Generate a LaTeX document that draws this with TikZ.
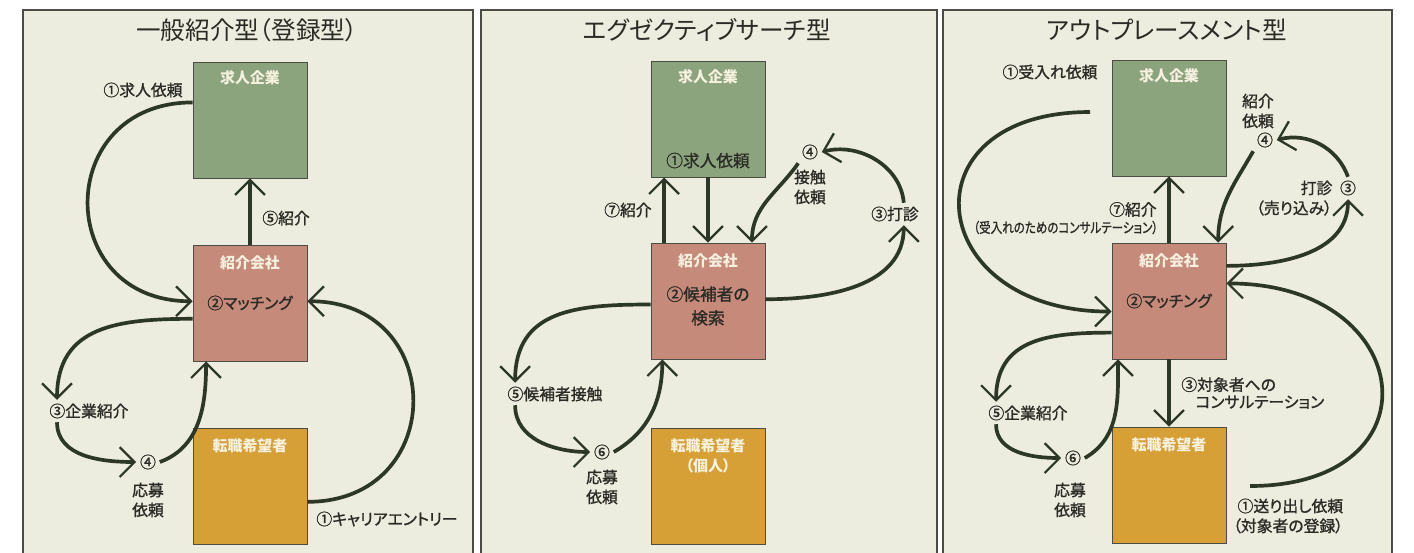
\documentclass[tikz,border=0pt]{standalone}
\usepackage{fontspec}
\setmainfont{Noto Sans CJK JP}[RawFeature=+palt]
\newfontfamily\medfont{Noto Sans CJK JP}[RawFeature=+palt, FakeBold=1.2]
\newfontfamily\narrowfont{Noto Sans CJK JP}[RawFeature=+palt, FakeStretch=0.82, FakeBold=1.2]
\usepackage{tikz}
\usetikzlibrary{arrows.meta}
\usetikzlibrary{positioning}
\tikzset{flow/.style = {draw = marrow, line width = 2.1pt,
                        -{Straight Barb[length = 8.5pt, width = 17pt, line width = 1.3pt]}}}
\tikzset{box/.style = {draw = mframe, line width = 0.5pt, minimum width = 2.28cm, minimum height = 2.32cm, inner sep = 0}}
\tikzset{head/.style = {font = \fontsize{8.5}{11.3}\selectfont\bfseries, text = mcream, inner sep = 0, align = center}}
\tikzset{inbox/.style = {font = \medfont\fontsize{9}{13.5}\selectfont, text = mtext, inner sep = 0, align = center}}
\tikzset{lbl/.style = {font = \medfont\fontsize{9}{11.3}\selectfont, text = mtext, inner sep = 2pt, align = center}}
\tikzset{ttl/.style = {font = \fontsize{14}{16}\selectfont, text = mtext, inner sep = 0}}
\definecolor{mpanel}{rgb}{0.925, 0.929, 0.871}
\definecolor{mframe}{rgb}{0.30, 0.30, 0.28}
\definecolor{mgreen}{rgb}{0.545, 0.643, 0.490}
\definecolor{mpink}{rgb}{0.776, 0.541, 0.478}
\definecolor{morange}{rgb}{0.839, 0.627, 0.212}
\definecolor{marrow}{rgb}{0.173, 0.216, 0.153}
\definecolor{mtext}{rgb}{0.17, 0.17, 0.15}
\definecolor{mcream}{rgb}{0.97, 0.95, 0.88}
\begin{document}
\begin{tikzpicture}[x = 0.02cm, y = -0.02cm]
      \useasboundingbox (0, 0) rectangle (1414, 552);
      \fill [white] (0, 0) rectangle (1414, 552);
      \foreach \a/\b in {23/473, 481/937, 943/1392} {
        \draw [fill = mpanel, draw = mframe, line width = 0.8pt] (\a, 10) rectangle (\b, 560);
      }

      \node [ttl] (t1) at (247, 30) {一般紹介型（登録型）};
      \node [box, fill = mgreen] (ent1) at (250, 120) {};
      \node [box, fill = mpink] (mat1) at (250, 303) {};
      \node [box, fill = morange] (can1) at (250, 486) {};
      \node [head, below = 5pt of ent1.north] (ent1h) {求人企業};
      \node [head, below = 6pt of mat1.north] (mat1h) {紹介会社};
      \node [inbox] (mat1s) at (mat1) {②マッチング};
      \node [head, below = 6pt of can1.north] (can1h) {転職希望者};
      \node [lbl] (l11) at (143, 90) {①求人依頼};
      \node [lbl] (l13) at (89, 411) {③企業紹介};
      \node [lbl] (n14) at (148, 462) {④};
      \node [lbl] (n14b) at (148, 500) {応募\\依頼};
      \node [lbl] (l1e) at (387, 519) {①キャリアエントリー};
      \draw [flow] (mat1) -- (ent1) node [lbl, pos = 0.4, right = 4pt] (l15) {⑤紹介};
      \draw [flow] ([yshift = 10pt]ent1.west) to [out = 180, in = 180, looseness = 1.8] ([yshift = 1pt]mat1.west);
      \draw [flow] ([yshift = -9pt]mat1.west) to [out = 180, in = 90, looseness = 1.2] ([xshift = 6.5pt]l13.north west);
      \draw [flow] ([xshift = 6.5pt]l13.south west) to [out = -90, in = 180] (n14.west);
      \draw [flow] (n14.east) to [out = 20, in = -90] ([xshift = -25pt]mat1.south);
      \draw [flow] ([yshift = -9pt]can1.east) to [out = 0, in = 0, looseness = 1.8] ([yshift = 1pt]mat1.east);

      \node [ttl] (t2) at (707, 30) {エグゼクティブサーチ型};
      \node [box, fill = mgreen] (ent2) at (708, 119) {};
      \node [box, fill = mpink] (mat2) at (708, 301) {};
      \node [box, fill = morange] (can2) at (708, 486) {};
      \node [head, below = 5pt of ent2.north] (ent2h) {求人企業};
      \node [inbox, font = \medfont\fontsize{9.5}{11}\selectfont, above = 5pt of ent2.south] (ent2s) {①求人依頼};
      \node [head, below = 6pt of mat2.north] (mat2h) {紹介会社};
      \node [inbox, font = \medfont\fontsize{9.5}{13.5}\selectfont] (mat2s) at (708, 306) {②候補者の\\検索};
      \node [head, below = 6pt of can2.north] (can2h) {転職希望者\\（個人）};
      \draw [flow] ([xshift = -25pt]mat2.north) -- ([xshift = -25pt]ent2.south) node [lbl, midway, left = 4pt] (l27) {⑦紹介};
      \draw [flow] (ent2) -- (mat2);
      \node [lbl] (n24) at (810, 152) {④};
      \node [lbl] (n24b) at (810, 187) {接触\\依頼};
      \node [lbl] (n23) at (895, 214) {③打診};
      \draw [flow] (n24.south west) to [out = 235, in = 90] ([xshift = 25pt]mat2.north);
      \draw [flow] ([yshift = 1pt]mat2.east) to [out = 0, in = -90] ([xshift = 5pt]n23.south);
      \draw [flow] ([xshift = 5pt]n23.north) to [out = 95, in = 15] (n24.east);
      \node [lbl] (l25) at (555, 394) {⑤候補者接触};
      \node [lbl] (n26) at (602, 452) {⑥};
      \node [lbl] (n26b) at (602, 487) {応募\\依頼};
      \draw [flow] ([yshift = -2pt]mat2.west) to [out = 180, in = 90, looseness = 1.2] ([xshift = 6.5pt]l25.north west);
      \draw [flow] ([xshift = 6.5pt]l25.south west) to [out = -90, in = 180] (n26.west);
      \draw [flow] (n26.east) to [out = 30, in = -90] ([xshift = -26pt]mat2.south);

      \node [ttl] (t3) at (1167, 30) {アウトプレースメント型};
      \node [box, fill = mgreen] (ent3) at (1169, 118) {};
      \node [box, fill = mpink] (mat3) at (1169, 301) {};
      \node [box, fill = morange] (can3) at (1169, 485) {};
      \node [head, below = 5pt of ent3.north] (ent3h) {求人企業};
      \node [head, below = 6pt of mat3.north] (mat3h) {紹介会社};
      \node [inbox] (mat3s) at (mat3) {②マッチング};
      \node [head, below = 6pt of can3.north] (can3h) {転職希望者};
      \node [lbl] (l31) at (1050, 72) {①受入れ依頼};
      \coordinate (r31) at (1090, 112);
      \draw [flow] (r31) to [out = 180, in = 180, looseness = 2.4] ([yshift = -6pt]mat3.west);
      \draw [flow] (mat3) -- (ent3) node [lbl, midway, left = 4pt] (l37) {⑦紹介};
      \node [lbl, font = \narrowfont\fontsize{8}{10}\selectfont, anchor = north east] (l37b) at ([yshift = 3pt]l37.south east) {（受入れのためのコンサルテーション）};
      \node [lbl] (n34) at (1265, 140) {④};
      \node [lbl] (n34b) at (1258, 111) {紹介\\依頼};
      \node [lbl] (n33) at (1348, 188) {③};
      \node [lbl, left = 0pt of n33] (n33a) {打診};
      \node [lbl] (n33b) at (1294, 208) {（売り込み）};
      \draw [flow] (n34.south west) to [out = 240, in = 90] ([xshift = 28pt]mat3.north);
      \draw [flow] (n33.north) to [out = 110, in = 15] (n34.east);
      \draw [flow] ([yshift = 20pt]mat3.east) to [out = 0, in = -90] (n33.south);
      \node [lbl] (l35) at (1028, 413) {⑤企業紹介};
      \node [lbl] (n36) at (1073, 458) {⑥};
      \node [lbl] (n36b) at (1070, 500) {応募\\依頼};
      \draw [flow] ([yshift = -18pt]mat3.west) to [out = 180, in = 90, looseness = 1.2] ([xshift = 6.5pt]l35.north west);
      \draw [flow] ([xshift = 6.5pt]l35.south west) to [out = -90, in = 180] (n36.west);
      \draw [flow] (n36.east) to [out = 30, in = -90] ([xshift = -29pt]mat3.south);
      \draw [flow] (mat3) -- (can3) node [lbl, midway, right = 4pt, align = left, font = \medfont\fontsize{9}{9.8}\selectfont] (l33) {③対象者への\\\hspace{8pt}コンサルテーション};
      \coordinate (r32) at (1250, 486);
      \draw [flow] (r32) to [out = 0, in = 0, looseness = 2.4] ([yshift = 10pt]mat3.east);
      \node [lbl, align = right, anchor = east] (l32) at (1347, 516) {①送り出し依頼\\（対象者の登録）};
    \end{tikzpicture}
\end{document}
